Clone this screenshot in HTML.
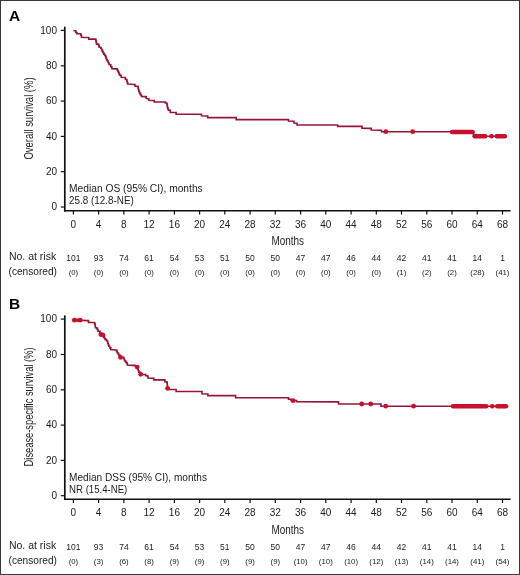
<!DOCTYPE html>
<html><head><meta charset="utf-8"><style>
html,body{margin:0;padding:0;background:#fff;}
svg{display:block;will-change:transform;}
text{font-family:"Liberation Sans", sans-serif;}
</style></head><body>
<svg width="520" height="575" viewBox="0 0 520 575">
<rect x="0" y="0" width="520" height="575" fill="#fff"/>
<text x="8.9" y="20.6" font-size="15.5" font-weight="bold" fill="#000">A</text>
<path d="M64.8 26.7V211.6" stroke="#111" stroke-width="1.7" fill="none"/>
<path d="M63.95 210.8H510.6" stroke="#111" stroke-width="1.6" fill="none"/>
<path d="M60.8 207.0H65" stroke="#111" stroke-width="1.2"/>
<text x="57" y="210.2" font-size="10" text-anchor="end" fill="#1c1c1c">0</text>
<path d="M60.8 171.7H65" stroke="#111" stroke-width="1.2"/>
<text x="57" y="174.9" font-size="10" text-anchor="end" fill="#1c1c1c">20</text>
<path d="M60.8 136.4H65" stroke="#111" stroke-width="1.2"/>
<text x="57" y="139.6" font-size="10" text-anchor="end" fill="#1c1c1c">40</text>
<path d="M60.8 101.1H65" stroke="#111" stroke-width="1.2"/>
<text x="57" y="104.3" font-size="10" text-anchor="end" fill="#1c1c1c">60</text>
<path d="M60.8 65.8H65" stroke="#111" stroke-width="1.2"/>
<text x="57" y="69.0" font-size="10" text-anchor="end" fill="#1c1c1c">80</text>
<path d="M60.8 30.4H65" stroke="#111" stroke-width="1.2"/>
<text x="57" y="33.6" font-size="10" text-anchor="end" fill="#1c1c1c">100</text>
<path d="M73.4 210.8V214.6" stroke="#111" stroke-width="1.2"/>
<text x="73.4" y="227.8" font-size="10" text-anchor="middle" fill="#1c1c1c">0</text>
<path d="M98.6 210.8V214.6" stroke="#111" stroke-width="1.2"/>
<text x="98.6" y="227.8" font-size="10" text-anchor="middle" fill="#1c1c1c">4</text>
<path d="M123.9 210.8V214.6" stroke="#111" stroke-width="1.2"/>
<text x="123.9" y="227.8" font-size="10" text-anchor="middle" fill="#1c1c1c">8</text>
<path d="M149.1 210.8V214.6" stroke="#111" stroke-width="1.2"/>
<text x="149.1" y="227.8" font-size="10" text-anchor="middle" fill="#1c1c1c">12</text>
<path d="M174.4 210.8V214.6" stroke="#111" stroke-width="1.2"/>
<text x="174.4" y="227.8" font-size="10" text-anchor="middle" fill="#1c1c1c">16</text>
<path d="M199.6 210.8V214.6" stroke="#111" stroke-width="1.2"/>
<text x="199.6" y="227.8" font-size="10" text-anchor="middle" fill="#1c1c1c">20</text>
<path d="M224.8 210.8V214.6" stroke="#111" stroke-width="1.2"/>
<text x="224.8" y="227.8" font-size="10" text-anchor="middle" fill="#1c1c1c">24</text>
<path d="M250.1 210.8V214.6" stroke="#111" stroke-width="1.2"/>
<text x="250.1" y="227.8" font-size="10" text-anchor="middle" fill="#1c1c1c">28</text>
<path d="M275.3 210.8V214.6" stroke="#111" stroke-width="1.2"/>
<text x="275.3" y="227.8" font-size="10" text-anchor="middle" fill="#1c1c1c">32</text>
<path d="M300.6 210.8V214.6" stroke="#111" stroke-width="1.2"/>
<text x="300.6" y="227.8" font-size="10" text-anchor="middle" fill="#1c1c1c">36</text>
<path d="M325.8 210.8V214.6" stroke="#111" stroke-width="1.2"/>
<text x="325.8" y="227.8" font-size="10" text-anchor="middle" fill="#1c1c1c">40</text>
<path d="M351.1 210.8V214.6" stroke="#111" stroke-width="1.2"/>
<text x="351.1" y="227.8" font-size="10" text-anchor="middle" fill="#1c1c1c">44</text>
<path d="M376.3 210.8V214.6" stroke="#111" stroke-width="1.2"/>
<text x="376.3" y="227.8" font-size="10" text-anchor="middle" fill="#1c1c1c">48</text>
<path d="M401.5 210.8V214.6" stroke="#111" stroke-width="1.2"/>
<text x="401.5" y="227.8" font-size="10" text-anchor="middle" fill="#1c1c1c">52</text>
<path d="M426.8 210.8V214.6" stroke="#111" stroke-width="1.2"/>
<text x="426.8" y="227.8" font-size="10" text-anchor="middle" fill="#1c1c1c">56</text>
<path d="M452.0 210.8V214.6" stroke="#111" stroke-width="1.2"/>
<text x="452.0" y="227.8" font-size="10" text-anchor="middle" fill="#1c1c1c">60</text>
<path d="M477.3 210.8V214.6" stroke="#111" stroke-width="1.2"/>
<text x="477.3" y="227.8" font-size="10" text-anchor="middle" fill="#1c1c1c">64</text>
<path d="M502.5 210.8V214.6" stroke="#111" stroke-width="1.2"/>
<text x="502.5" y="227.8" font-size="10" text-anchor="middle" fill="#1c1c1c">68</text>
<text x="271.5" y="245.0" font-size="12" textLength="32.5" lengthAdjust="spacingAndGlyphs" fill="#1c1c1c">Months</text>
<text transform="translate(32.8 159.5) rotate(-90)" x="0" y="0" font-size="12" textLength="82.1" lengthAdjust="spacingAndGlyphs" fill="#1c1c1c">Overall survival (%)</text>
<text x="69.1" y="192.1" font-size="10" textLength="133.6" lengthAdjust="spacingAndGlyphs" fill="#1c1c1c">Median OS (95% CI), months</text>
<text x="69.1" y="203.9" font-size="10" textLength="64.7" lengthAdjust="spacingAndGlyphs" fill="#1c1c1c">25.8 (12.8-NE)</text>
<text x="8.9" y="259.6" font-size="10" textLength="47.3" lengthAdjust="spacingAndGlyphs" fill="#1c1c1c">No. at risk</text>
<text x="8.5" y="274.5" font-size="10" textLength="48.5" lengthAdjust="spacingAndGlyphs" fill="#1c1c1c">(censored)</text>
<text x="73.4" y="260.6" font-size="8.5" text-anchor="middle" fill="#1c1c1c">101</text>
<text x="73.4" y="275.2" font-size="7.8" text-anchor="middle" fill="#1c1c1c">(0)</text>
<text x="98.6" y="260.6" font-size="8.5" text-anchor="middle" fill="#1c1c1c">93</text>
<text x="98.6" y="275.2" font-size="7.8" text-anchor="middle" fill="#1c1c1c">(0)</text>
<text x="123.9" y="260.6" font-size="8.5" text-anchor="middle" fill="#1c1c1c">74</text>
<text x="123.9" y="275.2" font-size="7.8" text-anchor="middle" fill="#1c1c1c">(0)</text>
<text x="149.1" y="260.6" font-size="8.5" text-anchor="middle" fill="#1c1c1c">61</text>
<text x="149.1" y="275.2" font-size="7.8" text-anchor="middle" fill="#1c1c1c">(0)</text>
<text x="174.4" y="260.6" font-size="8.5" text-anchor="middle" fill="#1c1c1c">54</text>
<text x="174.4" y="275.2" font-size="7.8" text-anchor="middle" fill="#1c1c1c">(0)</text>
<text x="199.6" y="260.6" font-size="8.5" text-anchor="middle" fill="#1c1c1c">53</text>
<text x="199.6" y="275.2" font-size="7.8" text-anchor="middle" fill="#1c1c1c">(0)</text>
<text x="224.8" y="260.6" font-size="8.5" text-anchor="middle" fill="#1c1c1c">51</text>
<text x="224.8" y="275.2" font-size="7.8" text-anchor="middle" fill="#1c1c1c">(0)</text>
<text x="250.1" y="260.6" font-size="8.5" text-anchor="middle" fill="#1c1c1c">50</text>
<text x="250.1" y="275.2" font-size="7.8" text-anchor="middle" fill="#1c1c1c">(0)</text>
<text x="275.3" y="260.6" font-size="8.5" text-anchor="middle" fill="#1c1c1c">50</text>
<text x="275.3" y="275.2" font-size="7.8" text-anchor="middle" fill="#1c1c1c">(0)</text>
<text x="300.6" y="260.6" font-size="8.5" text-anchor="middle" fill="#1c1c1c">47</text>
<text x="300.6" y="275.2" font-size="7.8" text-anchor="middle" fill="#1c1c1c">(0)</text>
<text x="325.8" y="260.6" font-size="8.5" text-anchor="middle" fill="#1c1c1c">47</text>
<text x="325.8" y="275.2" font-size="7.8" text-anchor="middle" fill="#1c1c1c">(0)</text>
<text x="351.1" y="260.6" font-size="8.5" text-anchor="middle" fill="#1c1c1c">46</text>
<text x="351.1" y="275.2" font-size="7.8" text-anchor="middle" fill="#1c1c1c">(0)</text>
<text x="376.3" y="260.6" font-size="8.5" text-anchor="middle" fill="#1c1c1c">44</text>
<text x="376.3" y="275.2" font-size="7.8" text-anchor="middle" fill="#1c1c1c">(0)</text>
<text x="401.5" y="260.6" font-size="8.5" text-anchor="middle" fill="#1c1c1c">42</text>
<text x="401.5" y="275.2" font-size="7.8" text-anchor="middle" fill="#1c1c1c">(1)</text>
<text x="426.8" y="260.6" font-size="8.5" text-anchor="middle" fill="#1c1c1c">41</text>
<text x="426.8" y="275.2" font-size="7.8" text-anchor="middle" fill="#1c1c1c">(2)</text>
<text x="452.0" y="260.6" font-size="8.5" text-anchor="middle" fill="#1c1c1c">41</text>
<text x="452.0" y="275.2" font-size="7.8" text-anchor="middle" fill="#1c1c1c">(2)</text>
<text x="477.3" y="260.6" font-size="8.5" text-anchor="middle" fill="#1c1c1c">14</text>
<text x="477.3" y="275.2" font-size="7.8" text-anchor="middle" fill="#1c1c1c">(28)</text>
<text x="502.5" y="260.6" font-size="8.5" text-anchor="middle" fill="#1c1c1c">1</text>
<text x="502.5" y="275.2" font-size="7.8" text-anchor="middle" fill="#1c1c1c">(41)</text>
<polyline points="73.50,30.50 74.60,30.80 75.80,30.80 75.80,32.50 76.90,32.50 76.90,33.70 79.60,33.70 80.80,33.70 80.80,35.20 81.50,35.20 81.50,37.20 88.10,37.50 88.80,37.50 88.80,39.10 94.60,39.10 95.80,39.10 95.80,40.60 96.15,40.60 96.15,42.35 96.50,42.35 96.50,44.10 98.50,44.10 98.50,44.80 98.85,44.80 98.85,46.00 99.20,46.00 99.20,47.20 100.80,47.20 100.80,48.30 101.55,48.30 101.55,49.85 102.30,49.85 102.30,51.40 103.05,51.40 103.05,52.75 103.80,52.75 103.80,54.10 104.60,54.10 104.60,55.25 105.40,55.25 105.40,56.40 105.95,56.40 105.95,58.10 106.50,58.10 106.50,59.80 107.30,59.80 107.30,61.00 108.10,61.00 108.10,62.20 108.65,62.20 108.65,63.50 109.20,63.50 109.20,64.80 110.80,64.80 110.80,66.80 111.90,66.80 111.90,68.70 116.20,68.90 117.30,68.90 117.30,70.20 117.90,70.20 117.90,71.35 118.50,71.35 118.50,72.50 119.05,72.50 119.05,73.85 119.60,73.85 119.60,75.20 121.20,75.20 121.20,77.20 124.60,77.50 125.40,77.50 125.40,79.50 126.90,79.50 126.90,81.40 127.30,81.40 127.30,82.75 127.70,82.75 127.70,84.10 133.80,84.50 135.00,84.50 135.00,86.00 136.90,86.40 138.10,86.40 138.10,88.30 138.45,88.30 138.45,89.85 138.80,89.85 138.80,91.40 139.50,91.40 139.50,93.40 140.50,93.40 140.50,94.95 141.50,94.95 141.50,96.50 144.90,96.60 146.10,96.60 146.10,98.40 148.00,98.80 148.80,98.80 148.80,100.30 153.00,100.50 154.20,100.50 154.20,102.00 164.20,102.00 165.30,102.00 165.30,103.00 166.80,103.00 166.80,103.80 167.07,103.80 167.07,105.20 167.33,105.20 167.33,106.60 167.60,106.60 167.60,108.00 168.00,108.00 168.00,109.15 168.40,109.15 168.40,110.30 170.30,110.30 170.30,112.50 174.90,112.50 176.10,112.50 176.10,114.20 200.80,114.20 201.50,114.20 201.50,115.80 207.00,116.00 207.70,116.00 207.70,117.60 235.40,117.60 236.20,117.60 236.20,119.60 287.70,119.60 288.50,119.60 288.50,121.00 293.00,121.30 294.00,121.30 294.00,123.00 296.00,123.30 297.00,123.30 297.00,125.00 337.00,125.00 337.70,125.00 337.70,126.40 361.20,126.40 362.00,126.40 362.00,128.20 370.40,128.40 371.20,128.40 371.20,130.00 380.40,130.20 381.50,130.20 381.50,131.80 473.50,131.80 473.50,136.20 507.00,136.20" fill="none" stroke="#961637" stroke-width="1.6" stroke-linejoin="miter"/>
<circle cx="385.8" cy="131.7" r="2.4" fill="#c8102e"/>
<circle cx="412.7" cy="131.7" r="2.4" fill="#c8102e"/>
<path d="M452.0 132.0H472.6" stroke="#c8102e" stroke-width="4.5" stroke-linecap="round"/>
<path d="M474.7 136.2H485.2" stroke="#c8102e" stroke-width="4.5" stroke-linecap="round"/>
<path d="M491.4 136.2H491.6" stroke="#c8102e" stroke-width="4.5" stroke-linecap="round"/>
<path d="M496.7 136.2H504.8" stroke="#c8102e" stroke-width="4.5" stroke-linecap="round"/>
<text x="8.9" y="309.3" font-size="15.5" font-weight="bold" fill="#000">B</text>
<path d="M64.8 315.4V500.0" stroke="#111" stroke-width="1.7" fill="none"/>
<path d="M63.95 499.2H510.6" stroke="#111" stroke-width="1.6" fill="none"/>
<path d="M60.8 495.7H65" stroke="#111" stroke-width="1.2"/>
<text x="57" y="498.9" font-size="10" text-anchor="end" fill="#1c1c1c">0</text>
<path d="M60.8 460.4H65" stroke="#111" stroke-width="1.2"/>
<text x="57" y="463.6" font-size="10" text-anchor="end" fill="#1c1c1c">20</text>
<path d="M60.8 425.1H65" stroke="#111" stroke-width="1.2"/>
<text x="57" y="428.3" font-size="10" text-anchor="end" fill="#1c1c1c">40</text>
<path d="M60.8 389.8H65" stroke="#111" stroke-width="1.2"/>
<text x="57" y="393.0" font-size="10" text-anchor="end" fill="#1c1c1c">60</text>
<path d="M60.8 354.5H65" stroke="#111" stroke-width="1.2"/>
<text x="57" y="357.7" font-size="10" text-anchor="end" fill="#1c1c1c">80</text>
<path d="M60.8 319.1H65" stroke="#111" stroke-width="1.2"/>
<text x="57" y="322.3" font-size="10" text-anchor="end" fill="#1c1c1c">100</text>
<path d="M73.4 499.2V503.0" stroke="#111" stroke-width="1.2"/>
<text x="73.4" y="516.3" font-size="10" text-anchor="middle" fill="#1c1c1c">0</text>
<path d="M98.6 499.2V503.0" stroke="#111" stroke-width="1.2"/>
<text x="98.6" y="516.3" font-size="10" text-anchor="middle" fill="#1c1c1c">4</text>
<path d="M123.9 499.2V503.0" stroke="#111" stroke-width="1.2"/>
<text x="123.9" y="516.3" font-size="10" text-anchor="middle" fill="#1c1c1c">8</text>
<path d="M149.1 499.2V503.0" stroke="#111" stroke-width="1.2"/>
<text x="149.1" y="516.3" font-size="10" text-anchor="middle" fill="#1c1c1c">12</text>
<path d="M174.4 499.2V503.0" stroke="#111" stroke-width="1.2"/>
<text x="174.4" y="516.3" font-size="10" text-anchor="middle" fill="#1c1c1c">16</text>
<path d="M199.6 499.2V503.0" stroke="#111" stroke-width="1.2"/>
<text x="199.6" y="516.3" font-size="10" text-anchor="middle" fill="#1c1c1c">20</text>
<path d="M224.8 499.2V503.0" stroke="#111" stroke-width="1.2"/>
<text x="224.8" y="516.3" font-size="10" text-anchor="middle" fill="#1c1c1c">24</text>
<path d="M250.1 499.2V503.0" stroke="#111" stroke-width="1.2"/>
<text x="250.1" y="516.3" font-size="10" text-anchor="middle" fill="#1c1c1c">28</text>
<path d="M275.3 499.2V503.0" stroke="#111" stroke-width="1.2"/>
<text x="275.3" y="516.3" font-size="10" text-anchor="middle" fill="#1c1c1c">32</text>
<path d="M300.6 499.2V503.0" stroke="#111" stroke-width="1.2"/>
<text x="300.6" y="516.3" font-size="10" text-anchor="middle" fill="#1c1c1c">36</text>
<path d="M325.8 499.2V503.0" stroke="#111" stroke-width="1.2"/>
<text x="325.8" y="516.3" font-size="10" text-anchor="middle" fill="#1c1c1c">40</text>
<path d="M351.1 499.2V503.0" stroke="#111" stroke-width="1.2"/>
<text x="351.1" y="516.3" font-size="10" text-anchor="middle" fill="#1c1c1c">44</text>
<path d="M376.3 499.2V503.0" stroke="#111" stroke-width="1.2"/>
<text x="376.3" y="516.3" font-size="10" text-anchor="middle" fill="#1c1c1c">48</text>
<path d="M401.5 499.2V503.0" stroke="#111" stroke-width="1.2"/>
<text x="401.5" y="516.3" font-size="10" text-anchor="middle" fill="#1c1c1c">52</text>
<path d="M426.8 499.2V503.0" stroke="#111" stroke-width="1.2"/>
<text x="426.8" y="516.3" font-size="10" text-anchor="middle" fill="#1c1c1c">56</text>
<path d="M452.0 499.2V503.0" stroke="#111" stroke-width="1.2"/>
<text x="452.0" y="516.3" font-size="10" text-anchor="middle" fill="#1c1c1c">60</text>
<path d="M477.3 499.2V503.0" stroke="#111" stroke-width="1.2"/>
<text x="477.3" y="516.3" font-size="10" text-anchor="middle" fill="#1c1c1c">64</text>
<path d="M502.5 499.2V503.0" stroke="#111" stroke-width="1.2"/>
<text x="502.5" y="516.3" font-size="10" text-anchor="middle" fill="#1c1c1c">68</text>
<text x="271.5" y="534.0" font-size="12" textLength="32.5" lengthAdjust="spacingAndGlyphs" fill="#1c1c1c">Months</text>
<text transform="translate(32.8 466.4) rotate(-90)" x="0" y="0" font-size="12" textLength="118.9" lengthAdjust="spacingAndGlyphs" fill="#1c1c1c">Disease-specific survival (%)</text>
<text x="69.1" y="480.8" font-size="10" textLength="137.9" lengthAdjust="spacingAndGlyphs" fill="#1c1c1c">Median DSS (95% CI), months</text>
<text x="69.1" y="492.6" font-size="10" textLength="58.2" lengthAdjust="spacingAndGlyphs" fill="#1c1c1c">NR (15.4-NE)</text>
<text x="8.9" y="548.6" font-size="10" textLength="47.3" lengthAdjust="spacingAndGlyphs" fill="#1c1c1c">No. at risk</text>
<text x="8.5" y="563.5" font-size="10" textLength="48.5" lengthAdjust="spacingAndGlyphs" fill="#1c1c1c">(censored)</text>
<text x="73.4" y="549.6" font-size="8.5" text-anchor="middle" fill="#1c1c1c">101</text>
<text x="73.4" y="564.2" font-size="7.8" text-anchor="middle" fill="#1c1c1c">(0)</text>
<text x="98.6" y="549.6" font-size="8.5" text-anchor="middle" fill="#1c1c1c">93</text>
<text x="98.6" y="564.2" font-size="7.8" text-anchor="middle" fill="#1c1c1c">(3)</text>
<text x="123.9" y="549.6" font-size="8.5" text-anchor="middle" fill="#1c1c1c">74</text>
<text x="123.9" y="564.2" font-size="7.8" text-anchor="middle" fill="#1c1c1c">(6)</text>
<text x="149.1" y="549.6" font-size="8.5" text-anchor="middle" fill="#1c1c1c">61</text>
<text x="149.1" y="564.2" font-size="7.8" text-anchor="middle" fill="#1c1c1c">(8)</text>
<text x="174.4" y="549.6" font-size="8.5" text-anchor="middle" fill="#1c1c1c">54</text>
<text x="174.4" y="564.2" font-size="7.8" text-anchor="middle" fill="#1c1c1c">(9)</text>
<text x="199.6" y="549.6" font-size="8.5" text-anchor="middle" fill="#1c1c1c">53</text>
<text x="199.6" y="564.2" font-size="7.8" text-anchor="middle" fill="#1c1c1c">(9)</text>
<text x="224.8" y="549.6" font-size="8.5" text-anchor="middle" fill="#1c1c1c">51</text>
<text x="224.8" y="564.2" font-size="7.8" text-anchor="middle" fill="#1c1c1c">(9)</text>
<text x="250.1" y="549.6" font-size="8.5" text-anchor="middle" fill="#1c1c1c">50</text>
<text x="250.1" y="564.2" font-size="7.8" text-anchor="middle" fill="#1c1c1c">(9)</text>
<text x="275.3" y="549.6" font-size="8.5" text-anchor="middle" fill="#1c1c1c">50</text>
<text x="275.3" y="564.2" font-size="7.8" text-anchor="middle" fill="#1c1c1c">(9)</text>
<text x="300.6" y="549.6" font-size="8.5" text-anchor="middle" fill="#1c1c1c">47</text>
<text x="300.6" y="564.2" font-size="7.8" text-anchor="middle" fill="#1c1c1c">(10)</text>
<text x="325.8" y="549.6" font-size="8.5" text-anchor="middle" fill="#1c1c1c">47</text>
<text x="325.8" y="564.2" font-size="7.8" text-anchor="middle" fill="#1c1c1c">(10)</text>
<text x="351.1" y="549.6" font-size="8.5" text-anchor="middle" fill="#1c1c1c">46</text>
<text x="351.1" y="564.2" font-size="7.8" text-anchor="middle" fill="#1c1c1c">(10)</text>
<text x="376.3" y="549.6" font-size="8.5" text-anchor="middle" fill="#1c1c1c">44</text>
<text x="376.3" y="564.2" font-size="7.8" text-anchor="middle" fill="#1c1c1c">(12)</text>
<text x="401.5" y="549.6" font-size="8.5" text-anchor="middle" fill="#1c1c1c">42</text>
<text x="401.5" y="564.2" font-size="7.8" text-anchor="middle" fill="#1c1c1c">(13)</text>
<text x="426.8" y="549.6" font-size="8.5" text-anchor="middle" fill="#1c1c1c">41</text>
<text x="426.8" y="564.2" font-size="7.8" text-anchor="middle" fill="#1c1c1c">(14)</text>
<text x="452.0" y="549.6" font-size="8.5" text-anchor="middle" fill="#1c1c1c">41</text>
<text x="452.0" y="564.2" font-size="7.8" text-anchor="middle" fill="#1c1c1c">(14)</text>
<text x="477.3" y="549.6" font-size="8.5" text-anchor="middle" fill="#1c1c1c">14</text>
<text x="477.3" y="564.2" font-size="7.8" text-anchor="middle" fill="#1c1c1c">(41)</text>
<text x="502.5" y="549.6" font-size="8.5" text-anchor="middle" fill="#1c1c1c">1</text>
<text x="502.5" y="564.2" font-size="7.8" text-anchor="middle" fill="#1c1c1c">(54)</text>
<polyline points="72.30,319.90 82.30,320.40 87.30,320.60 88.50,320.60 88.50,322.50 94.20,322.50 94.60,322.50 94.60,323.65 95.00,323.65 95.00,324.80 95.20,324.80 95.20,326.30 95.40,326.30 95.40,327.80 96.90,327.80 96.90,328.60 97.50,328.60 97.50,329.95 98.10,329.95 98.10,331.30 100.00,331.30 100.00,333.00 101.50,333.00 101.50,334.80 102.65,334.80 102.65,335.95 103.80,335.95 103.80,337.10 104.40,337.10 104.40,338.25 105.00,338.25 105.00,339.40 106.50,339.40 106.50,341.00 107.70,341.00 107.70,343.20 108.25,343.20 108.25,344.70 108.80,344.70 108.80,346.20 109.80,346.20 109.80,347.90 110.80,347.90 110.80,349.60 115.80,350.00 116.55,350.00 116.55,351.35 117.30,351.35 117.30,352.70 118.05,352.70 118.05,354.05 118.80,354.05 118.80,355.40 120.40,355.40 120.40,357.30 123.50,357.30 123.50,358.10 124.05,358.10 124.05,359.45 124.60,359.45 124.60,360.80 125.55,360.80 125.55,361.95 126.50,361.95 126.50,363.10 127.30,363.10 127.30,365.00 133.10,365.40 135.00,365.40 135.00,366.00 136.50,366.00 136.50,366.90 137.10,366.90 137.10,368.05 137.70,368.05 137.70,369.20 138.25,369.20 138.25,370.75 138.80,370.75 138.80,372.30 140.70,372.30 140.70,374.50 144.90,374.50 145.70,374.50 145.70,375.70 147.60,375.70 147.60,376.50 148.00,376.50 148.00,378.00 153.00,378.40 153.80,378.40 153.80,379.90 164.20,379.90 164.90,379.90 164.90,381.80 166.80,381.80 166.80,382.60 167.20,382.60 167.20,384.20 167.33,384.20 167.33,385.60 167.47,385.60 167.47,387.00 167.60,387.00 167.60,388.40 169.00,388.40 169.00,389.50 174.90,389.50 176.10,389.50 176.10,391.50 201.20,391.50 202.00,391.50 202.00,393.70 207.00,394.00 207.90,394.00 207.90,395.60 234.70,395.60 235.60,395.60 235.60,397.70 287.30,397.70 288.50,397.70 288.50,399.30 291.00,399.30 291.00,400.50 296.60,400.50 296.60,401.60 337.40,401.90 338.50,401.90 338.50,403.90 380.20,404.00 381.00,404.00 381.00,406.20 507.50,406.30" fill="none" stroke="#961637" stroke-width="1.6" stroke-linejoin="miter"/>
<circle cx="74.4" cy="320.2" r="2.4" fill="#c8102e"/>
<circle cx="80.2" cy="320.2" r="2.4" fill="#c8102e"/>
<circle cx="100.9" cy="334.5" r="2.4" fill="#c8102e"/>
<circle cx="103.0" cy="335.1" r="2.4" fill="#c8102e"/>
<circle cx="120.6" cy="357.4" r="2.4" fill="#c8102e"/>
<circle cx="137.2" cy="367.1" r="2.4" fill="#c8102e"/>
<circle cx="140.7" cy="374.3" r="2.4" fill="#c8102e"/>
<circle cx="167.6" cy="388.3" r="2.4" fill="#c8102e"/>
<circle cx="293.1" cy="400.7" r="2.4" fill="#c8102e"/>
<circle cx="361.7" cy="404.0" r="2.4" fill="#c8102e"/>
<circle cx="370.7" cy="404.0" r="2.4" fill="#c8102e"/>
<circle cx="385.7" cy="406.2" r="2.4" fill="#c8102e"/>
<circle cx="413.6" cy="406.2" r="2.4" fill="#c8102e"/>
<path d="M74.4 320.2H80.2" stroke="#c8102e" stroke-width="3.4"/>
<path d="M453.0 406.3H486.3" stroke="#c8102e" stroke-width="4.5" stroke-linecap="round"/>
<path d="M492.2 406.3H492.4" stroke="#c8102e" stroke-width="4.5" stroke-linecap="round"/>
<path d="M497.2 406.3H506.0" stroke="#c8102e" stroke-width="4.5" stroke-linecap="round"/>
<rect x="0.5" y="0.5" width="519" height="574" fill="none" stroke="#383838" stroke-width="1"/>
</svg>
</body></html>
